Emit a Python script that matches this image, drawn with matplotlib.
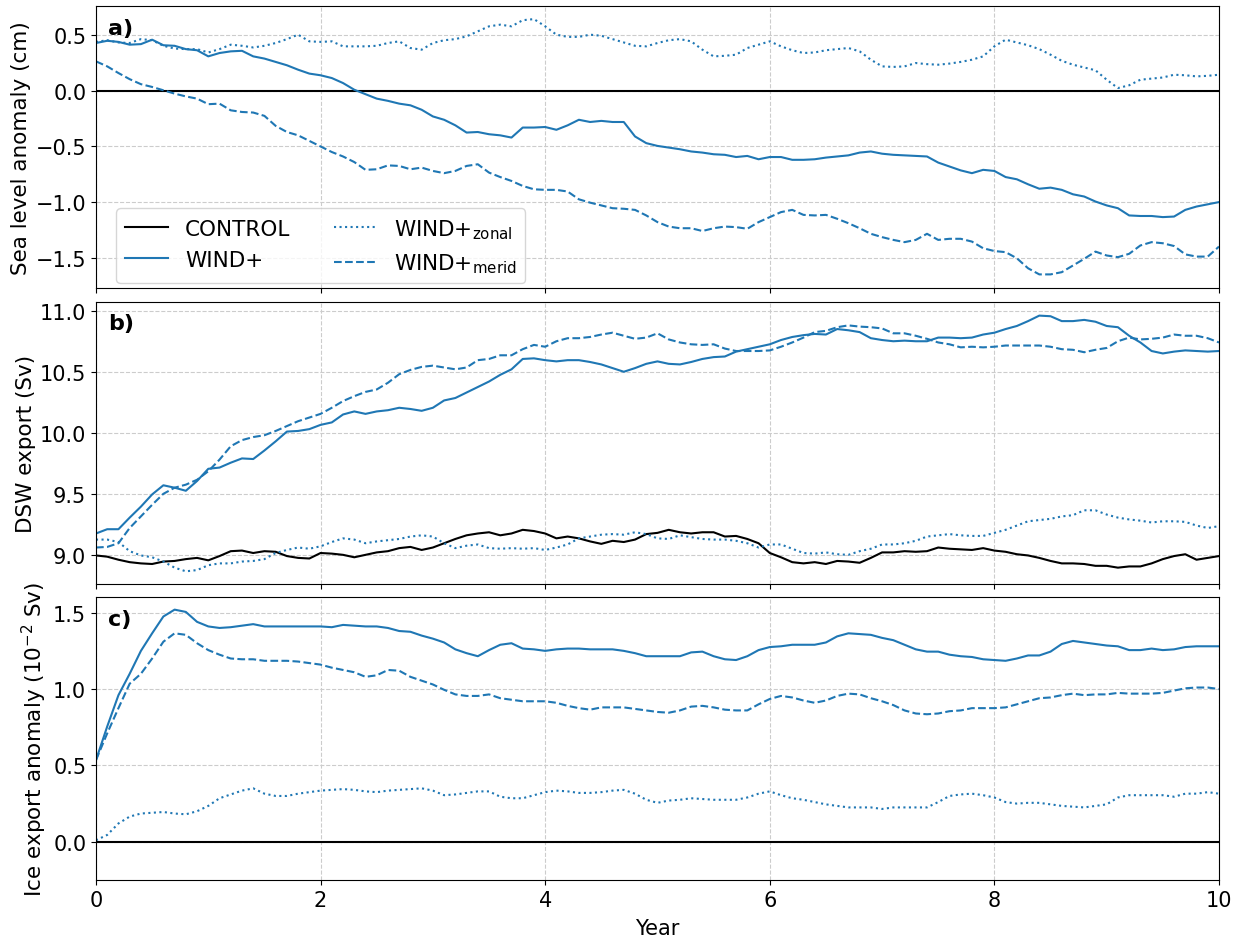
import numpy as np
import matplotlib
matplotlib.use("Agg")
import matplotlib.pyplot as plt

# ---------------- data (sampled every 0.1 year) ----------------
years = np.linspace(0, 10, 101)

# Panel a: sea level anomaly (cm)
sla_wind = [0.43, 0.45, 0.44, 0.415, 0.42, 0.46, 0.41, 0.405, 0.375, 0.365,
            0.31, 0.34, 0.355, 0.36, 0.31, 0.29, 0.26, 0.23, 0.19, 0.155,
            0.14, 0.115, 0.07, 0.01, -0.03, -0.07, -0.09, -0.115, -0.13, -0.17,
            -0.23, -0.26, -0.31, -0.375, -0.37, -0.39, -0.40, -0.42, -0.33, -0.33,
            -0.325, -0.35, -0.31, -0.26, -0.28, -0.27, -0.28, -0.28, -0.41, -0.47,
            -0.495, -0.51, -0.525, -0.545, -0.555, -0.57, -0.575, -0.595, -0.585, -0.615,
            -0.595, -0.595, -0.62, -0.62, -0.615, -0.60, -0.59, -0.58, -0.555, -0.545,
            -0.565, -0.575, -0.58, -0.585, -0.59, -0.645, -0.68, -0.715, -0.74, -0.71,
            -0.72, -0.775, -0.795, -0.84, -0.88, -0.87, -0.89, -0.93, -0.95, -0.995,
            -1.03, -1.055, -1.12, -1.125, -1.125, -1.135, -1.13, -1.07, -1.04, -1.02,
            -1.00]
sla_zonal = [0.44, 0.455, 0.435, 0.43, 0.465, 0.455, 0.405, 0.38, 0.375, 0.375,
             0.345, 0.375, 0.415, 0.405, 0.39, 0.405, 0.43, 0.465, 0.505, 0.445,
             0.44, 0.445, 0.40, 0.40, 0.40, 0.405, 0.43, 0.445, 0.385, 0.37,
             0.43, 0.455, 0.465, 0.49, 0.535, 0.58, 0.595, 0.58, 0.635, 0.645,
             0.58, 0.505, 0.485, 0.485, 0.505, 0.495, 0.465, 0.435, 0.405, 0.40,
             0.43, 0.455, 0.465, 0.445, 0.37, 0.31, 0.315, 0.325, 0.385, 0.415,
             0.445, 0.40, 0.365, 0.34, 0.345, 0.365, 0.375, 0.385, 0.355, 0.28,
             0.22, 0.215, 0.22, 0.25, 0.24, 0.235, 0.245, 0.26, 0.28, 0.31,
             0.40, 0.46, 0.435, 0.41, 0.375, 0.325, 0.27, 0.235, 0.21, 0.185,
             0.10, 0.025, 0.05, 0.10, 0.11, 0.12, 0.145, 0.14, 0.13, 0.135,
             0.145]
sla_merid = [0.265, 0.22, 0.16, 0.105, 0.06, 0.035, 0.005, -0.025, -0.05, -0.07,
             -0.12, -0.115, -0.175, -0.19, -0.195, -0.225, -0.315, -0.37, -0.40, -0.45,
             -0.50, -0.55, -0.59, -0.64, -0.71, -0.705, -0.67, -0.675, -0.705, -0.69,
             -0.72, -0.74, -0.72, -0.675, -0.66, -0.735, -0.775, -0.81, -0.855, -0.885,
             -0.89, -0.89, -0.905, -0.975, -1.005, -1.03, -1.055, -1.06, -1.07, -1.12,
             -1.18, -1.22, -1.235, -1.235, -1.26, -1.235, -1.22, -1.225, -1.24, -1.18,
             -1.135, -1.09, -1.07, -1.115, -1.12, -1.115, -1.15, -1.19, -1.235, -1.285,
             -1.315, -1.34, -1.36, -1.34, -1.285, -1.34, -1.33, -1.33, -1.355, -1.415,
             -1.44, -1.45, -1.505, -1.595, -1.65, -1.65, -1.63, -1.57, -1.51, -1.445,
             -1.48, -1.495, -1.465, -1.39, -1.36, -1.37, -1.395, -1.47, -1.49, -1.49,
             -1.40]

# Panel b: DSW export (Sv)
dsw_control = [9.00, 8.99, 8.965, 8.945, 8.935, 8.93, 8.95, 8.955, 8.97, 8.98,
               8.96, 8.995, 9.035, 9.04, 9.02, 9.035, 9.03, 8.995, 8.98, 8.975,
               9.02, 9.015, 9.005, 8.985, 9.005, 9.025, 9.035, 9.06, 9.07, 9.045,
               9.065, 9.10, 9.135, 9.165, 9.18, 9.19, 9.165, 9.18, 9.21, 9.20,
               9.18, 9.14, 9.155, 9.14, 9.115, 9.095, 9.12, 9.11, 9.13, 9.175,
               9.185, 9.21, 9.19, 9.18, 9.19, 9.19, 9.155, 9.16, 9.135, 9.10,
               9.02, 8.985, 8.945, 8.935, 8.945, 8.93, 8.955, 8.95, 8.94, 8.98,
               9.025, 9.025, 9.035, 9.03, 9.035, 9.065, 9.055, 9.05, 9.045, 9.06,
               9.04, 9.03, 9.01, 9.00, 8.98, 8.955, 8.935, 8.935, 8.93, 8.915,
               8.915, 8.90, 8.91, 8.91, 8.935, 8.97, 8.995, 9.01, 8.965, 8.98,
               8.995]
dsw_wind = [9.18, 9.215, 9.215, 9.31, 9.40, 9.50, 9.575, 9.555, 9.53, 9.61,
            9.71, 9.72, 9.76, 9.795, 9.79, 9.86, 9.935, 10.015, 10.02, 10.035,
            10.07, 10.09, 10.155, 10.18, 10.16, 10.18, 10.19, 10.21, 10.20, 10.185,
            10.21, 10.27, 10.29, 10.335, 10.38, 10.425, 10.48, 10.525, 10.61, 10.615,
            10.60, 10.59, 10.60, 10.60, 10.585, 10.565, 10.535, 10.505, 10.535, 10.57,
            10.59, 10.57, 10.565, 10.585, 10.61, 10.625, 10.63, 10.67, 10.69, 10.71,
            10.73, 10.765, 10.79, 10.805, 10.815, 10.81, 10.855, 10.845, 10.83, 10.78,
            10.765, 10.755, 10.76, 10.755, 10.755, 10.785, 10.785, 10.78, 10.785, 10.81,
            10.825, 10.855, 10.88, 10.92, 10.965, 10.96, 10.92, 10.92, 10.93, 10.915,
            10.88, 10.87, 10.80, 10.745, 10.675, 10.655, 10.67, 10.68, 10.675, 10.67,
            10.675]
dsw_zonal = [9.13, 9.13, 9.11, 9.035, 9.00, 8.985, 8.95, 8.90, 8.87, 8.88,
             8.92, 8.935, 8.935, 8.95, 8.955, 8.97, 9.02, 9.045, 9.065, 9.055,
             9.075, 9.11, 9.14, 9.13, 9.10, 9.115, 9.125, 9.135, 9.155, 9.165,
             9.155, 9.10, 9.06, 9.08, 9.09, 9.06, 9.055, 9.06, 9.055, 9.06,
             9.045, 9.065, 9.09, 9.14, 9.155, 9.17, 9.175, 9.17, 9.19, 9.175,
             9.14, 9.135, 9.165, 9.15, 9.135, 9.13, 9.13, 9.12, 9.10, 9.065,
             9.09, 9.09, 9.055, 9.02, 9.015, 9.025, 9.01, 9.005, 9.035, 9.055,
             9.09, 9.09, 9.10, 9.12, 9.155, 9.165, 9.175, 9.165, 9.16, 9.16,
             9.185, 9.21, 9.245, 9.28, 9.29, 9.30, 9.32, 9.33, 9.37, 9.37,
             9.335, 9.31, 9.295, 9.285, 9.27, 9.28, 9.28, 9.275, 9.245, 9.225,
             9.24]
dsw_merid = [9.065, 9.07, 9.10, 9.225, 9.32, 9.415, 9.505, 9.555, 9.58, 9.62,
             9.69, 9.785, 9.895, 9.945, 9.97, 9.985, 10.02, 10.06, 10.10, 10.13,
             10.16, 10.21, 10.265, 10.305, 10.34, 10.36, 10.415, 10.485, 10.52, 10.545,
             10.555, 10.54, 10.525, 10.54, 10.60, 10.61, 10.64, 10.64, 10.69, 10.725,
             10.71, 10.755, 10.78, 10.78, 10.79, 10.81, 10.825, 10.80, 10.775, 10.785,
             10.82, 10.77, 10.745, 10.73, 10.725, 10.73, 10.695, 10.675, 10.675, 10.675,
             10.68, 10.71, 10.745, 10.785, 10.83, 10.84, 10.87, 10.885, 10.875, 10.87,
             10.86, 10.82, 10.82, 10.80, 10.775, 10.745, 10.73, 10.705, 10.71, 10.705,
             10.71, 10.72, 10.72, 10.72, 10.72, 10.71, 10.69, 10.685, 10.665, 10.685,
             10.70, 10.755, 10.785, 10.77, 10.775, 10.785, 10.81, 10.80, 10.80, 10.78,
             10.745]

# Panel c: ice export anomaly (1e-2 Sv)
ice_wind = [0.535, 0.755, 0.96, 1.10, 1.25, 1.365, 1.475, 1.52, 1.505, 1.44,
            1.41, 1.40, 1.405, 1.415, 1.425, 1.41, 1.41, 1.41, 1.41, 1.41,
            1.41, 1.405, 1.42, 1.415, 1.41, 1.41, 1.40, 1.38, 1.375, 1.35,
            1.33, 1.305, 1.26, 1.235, 1.215, 1.255, 1.29, 1.30, 1.265, 1.26,
            1.25, 1.26, 1.265, 1.265, 1.26, 1.26, 1.26, 1.25, 1.235, 1.215,
            1.215, 1.215, 1.215, 1.24, 1.245, 1.215, 1.195, 1.19, 1.215, 1.255,
            1.275, 1.28, 1.29, 1.29, 1.29, 1.305, 1.345, 1.365, 1.36, 1.355,
            1.335, 1.32, 1.29, 1.26, 1.245, 1.245, 1.225, 1.215, 1.21, 1.195,
            1.19, 1.185, 1.20, 1.22, 1.22, 1.245, 1.295, 1.315, 1.305, 1.295,
            1.285, 1.28, 1.255, 1.255, 1.265, 1.255, 1.26, 1.275, 1.28, 1.28,
            1.28]
ice_zonal = [0.01, 0.045, 0.12, 0.165, 0.185, 0.19, 0.195, 0.185, 0.18, 0.20,
             0.235, 0.285, 0.31, 0.335, 0.35, 0.315, 0.30, 0.30, 0.315, 0.325,
             0.335, 0.34, 0.345, 0.34, 0.33, 0.325, 0.335, 0.34, 0.345, 0.35,
             0.335, 0.305, 0.31, 0.32, 0.33, 0.33, 0.295, 0.285, 0.285, 0.305,
             0.325, 0.335, 0.33, 0.32, 0.32, 0.325, 0.335, 0.34, 0.315, 0.275,
             0.255, 0.27, 0.275, 0.285, 0.28, 0.275, 0.275, 0.275, 0.29, 0.315,
             0.33, 0.305, 0.285, 0.275, 0.26, 0.245, 0.235, 0.225, 0.225, 0.225,
             0.215, 0.225, 0.225, 0.225, 0.225, 0.26, 0.30, 0.31, 0.315, 0.305,
             0.29, 0.26, 0.25, 0.255, 0.255, 0.245, 0.235, 0.23, 0.225, 0.235,
             0.245, 0.29, 0.305, 0.305, 0.305, 0.305, 0.295, 0.315, 0.315, 0.325,
             0.315]
ice_merid = [0.535, 0.71, 0.875, 1.035, 1.10, 1.20, 1.31, 1.365, 1.355, 1.30,
             1.255, 1.225, 1.20, 1.195, 1.195, 1.185, 1.185, 1.185, 1.18, 1.17,
             1.16, 1.14, 1.125, 1.11, 1.08, 1.09, 1.125, 1.12, 1.08, 1.055,
             1.03, 0.995, 0.965, 0.955, 0.955, 0.965, 0.94, 0.93, 0.92, 0.92,
             0.92, 0.91, 0.89, 0.875, 0.865, 0.88, 0.88, 0.88, 0.87, 0.86,
             0.85, 0.845, 0.86, 0.885, 0.89, 0.88, 0.865, 0.86, 0.86, 0.90,
             0.935, 0.955, 0.945, 0.925, 0.91, 0.925, 0.955, 0.97, 0.965, 0.94,
             0.92, 0.895, 0.86, 0.84, 0.835, 0.84, 0.855, 0.86, 0.875, 0.875,
             0.875, 0.88, 0.90, 0.92, 0.94, 0.945, 0.96, 0.97, 0.96, 0.965,
             0.965, 0.975, 0.97, 0.97, 0.97, 0.975, 0.99, 1.005, 1.01, 1.01,
             1.00]

labels = ["CONTROL", "WIND+", r"WIND+$_{\mathrm{zonal}}$", r"WIND+$_{\mathrm{merid}}$"]
panel_tags = ["a)", "b)", "c)"]
ylabels = ["Sea level anomaly (cm)", "DSW export (Sv)", r"Ice export anomaly (10$^{-2}$ Sv)"]

# ---------------- plot ----------------
plt.rcParams["font.size"] = 15
blue = "#1f77b4"

fig, axes = plt.subplots(3, 1, figsize=(12.45, 9.37), dpi=100, sharex=True)
fig.subplots_adjust(left=0.0771, right=0.9791, top=0.9928, bottom=0.0598, hspace=0.047)

zeros = np.zeros_like(years)
series = [
    (zeros, sla_wind, sla_zonal, sla_merid),
    (dsw_control, dsw_wind, dsw_zonal, dsw_merid),
    (zeros, ice_wind, ice_zonal, ice_merid),
]

for ax, (ctl, w, z, m), tag, yl in zip(axes, series, panel_tags, ylabels):
    ax.plot(years, ctl, color="black", lw=1.5, label=labels[0])
    ax.plot(years, w, color=blue, lw=1.5, ls="-", label=labels[1])
    ax.plot(years, z, color=blue, lw=1.5, ls=":", label=labels[2])
    ax.plot(years, m, color=blue, lw=1.5, ls="--", label=labels[3])
    ax.grid(True, ls="--", color="#cccccc", lw=0.8)
    ax.set_axisbelow(True)
    ax.set_ylabel(yl, fontsize=15.5, labelpad=3)
    ax.text(0.011, 0.958, tag, transform=ax.transAxes, fontsize=16,
            fontweight="bold", ha="left", va="top")
    ax.set_xlim(0, 10)

axes[0].set_ylim(-1.775, 0.765)
axes[0].set_yticks([-1.5, -1.0, -0.5, 0.0, 0.5])
axes[1].set_ylim(8.765, 11.08)
axes[1].set_yticks([9.0, 9.5, 10.0, 10.5, 11.0])
axes[2].set_ylim(-0.25, 1.6)
axes[2].set_yticks([0.0, 0.5, 1.0, 1.5])
axes[2].set_xticks([0, 2, 4, 6, 8, 10])
axes[2].set_xlabel("Year", labelpad=6)

axes[0].legend(loc="lower left", bbox_to_anchor=(0.018, 0.017), borderaxespad=0,
               ncol=2, fontsize=15.5, columnspacing=2.0)

fig.savefig("out.png", dpi=100)
